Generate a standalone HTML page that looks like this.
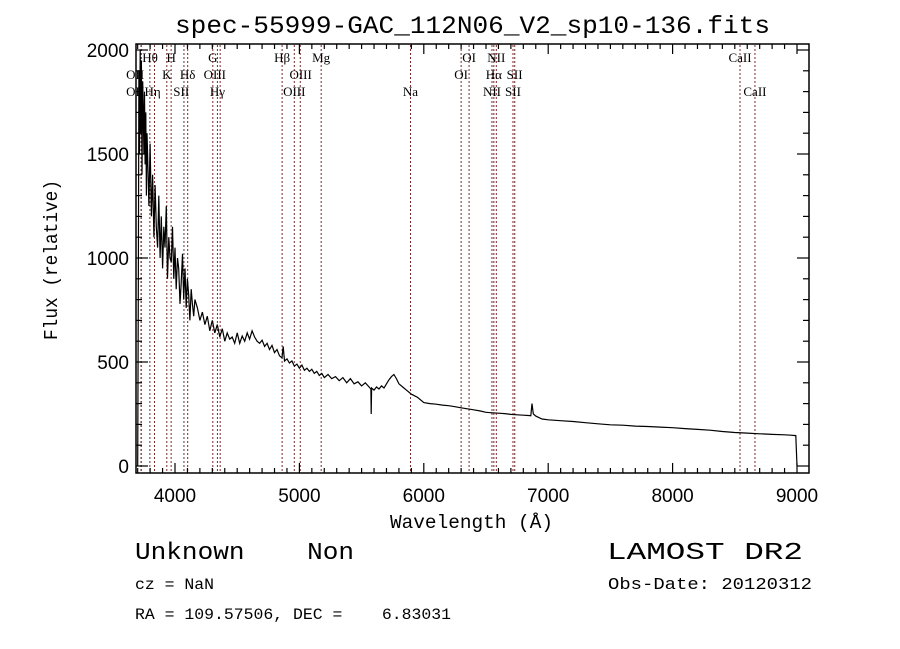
<!DOCTYPE html>
<html><head><meta charset="utf-8"><style>
html,body{margin:0;padding:0;background:#fff;}
svg{display:block;}
text{font-family:"Liberation Sans",sans-serif;}
.mono{font-family:"Liberation Mono",monospace;}
.ser{font-family:"Liberation Serif",serif;font-size:13px;}
</style></head><body>
<svg id="chart" width="900" height="649" viewBox="0 0 900 649">
<rect x="0" y="0" width="900" height="649" fill="#fff"/>
<text class="mono" x="175" y="33" font-size="25" textLength="595" lengthAdjust="spacingAndGlyphs">spec-55999-GAC_112N06_V2_sp10-136.fits</text>
<g id="lines"></g>
<g id="labels"></g>
<g id="ticks"></g>
<polyline id="spec" fill="none" stroke="#000" stroke-width="1.2"/>
<rect x="136" y="44" width="673" height="429" fill="none" stroke="#000" stroke-width="1.5"/>
<text x="390" y="528" font-size="19" textLength="163" lengthAdjust="spacingAndGlyphs" class="mono">Wavelength (Å)</text>
<text transform="translate(57,340) rotate(-90)" font-size="19" textLength="160" lengthAdjust="spacingAndGlyphs" class="mono">Flux (relative)</text>
<text class="mono" x="135" y="559" font-size="24" xml:space="preserve" textLength="219" lengthAdjust="spacingAndGlyphs">Unknown    Non</text>
<text class="mono" x="607" y="559" font-size="24" textLength="196" lengthAdjust="spacingAndGlyphs">LAMOST DR2</text>
<text class="mono" x="135" y="589" font-size="16" textLength="79" lengthAdjust="spacingAndGlyphs">cz = NaN</text>
<text class="mono" x="608" y="589" font-size="17" textLength="204" lengthAdjust="spacingAndGlyphs">Obs-Date: 20120312</text>
<text class="mono" x="135" y="619" font-size="16" xml:space="preserve" textLength="316" lengthAdjust="spacingAndGlyphs">RA = 109.57506, DEC =    6.83031</text>
</svg>
<script>
const wavelengths=[
3700,3705,3710,3715,3720,3725,3730,3735,3740,3745,
3750,3755,3760,3765,3770,3775,3780,3790,3800,3810,
3820,3830,3840,3850,3860,3870,3880,3890,3900,3910,
3920,3930,3940,3950,3960,3970,3980,3990,4000,4010,
4020,4030,4040,4050,4060,4070,4080,4090,4100,4110,
4120,4130,4140,4150,4160,4180,4200,4220,4240,4260,
4280,4300,4320,4340,4360,4380,4400,4420,4440,4460,
4480,4500,4520,4540,4560,4580,4600,4620,4640,4660,
4680,4700,4720,4740,4760,4780,4800,4820,4840,4860,
4870,4880,4900,4920,4940,4960,4980,5000,5020,5040,
5060,5080,5100,5120,5140,5160,5180,5200,5230,5260,
5290,5320,5350,5380,5410,5440,5470,5500,5530,5560,
5575,5577,5580,5600,5620,5640,5660,5680,5700,5720,
5740,5760,5780,5800,5830,5860,5900,5950,6000,6050,
6100,6150,6200,6250,6300,6350,6400,6450,6500,6550,
6600,6650,6700,6750,6800,6840,6860,6870,6880,6900,
6950,7000,7100,7200,7300,7400,7500,7600,7700,7800,
7900,8000,8100,8200,8300,8400,8500,8600,8700,8800,
8900,8950,8990,9000];
const flux=[
0,820,1900,1500,2000,1600,1950,1400,1850,1700,
1500,1800,1450,1700,1300,1600,1500,1250,1550,1200,
1400,1100,1350,1150,1050,1300,1000,1200,950,1150,
1050,1250,900,1100,1000,980,1150,900,1050,850,
1000,950,780,880,1020,800,950,760,900,820,
700,850,780,720,800,760,700,740,680,720,
650,700,640,680,620,660,600,640,610,620,
590,640,590,625,600,640,610,650,620,600,
590,605,575,590,560,580,545,560,530,520,
575,505,515,495,505,480,490,470,485,460,
470,455,465,445,455,435,445,425,440,420,
430,410,425,400,420,395,405,385,400,380,
370,250,375,365,380,370,385,375,395,415,
430,440,420,395,380,365,345,330,305,300,
297,293,290,285,280,275,270,265,258,256,
254,252,248,246,244,243,242,300,250,240,
226,222,218,214,208,203,198,196,192,190,
187,184,180,176,172,166,161,158,155,152,
150,148,146,0];
const lineWl=[3727,3729,3798,3835,3934,3969,4072,4102,4304,4341,4363,4861,4959,5007,5175,5893,6300,6364,6548,6563,6583,6717,6731,8542,8662];
const labelText=["Hθ","H","G","Hβ","Mg","OI","NII","CaII","OII","K","Hδ","OIII","OIII","OI","Hα","SII","OII","Hη","SII","Hγ","OIII","Na","NII","SII","CaII"];
const labelWl=[3800,3969,4304,4861,5175,6364,6583,8542,3680,3934,4102,4320,5010,6300,6563,6730,3680,3820,4050,4341,4959,5893,6548,6717,8662];
const labelRow=[0,0,0,0,0,0,0,0,1,1,1,1,1,1,1,1,2,2,2,2,2,2,2,2,2];
const xTicks=[4000,5000,6000,7000,8000,9000];
const yTicks=[0,500,1000,1500,2000];
const NS='http://www.w3.org/2000/svg';
const X=w=>175+(w-4000)*0.1244;
const Y=f=>466-f*0.208;
const clampY=v=>Math.max(44,Math.min(473,v));
document.getElementById('spec').setAttribute('points',wavelengths.map((w,i)=>X(w).toFixed(1)+','+clampY(Y(flux[i])).toFixed(1)).join(' '));
const lg=document.getElementById('lines');
lineWl.forEach(w=>{const l=document.createElementNS(NS,'line');
l.setAttribute('x1',X(w));l.setAttribute('x2',X(w));l.setAttribute('y1',45);l.setAttribute('y2',472);
l.setAttribute('stroke','#7a2a2a');l.setAttribute('stroke-width','1');l.setAttribute('stroke-dasharray','2,2');


lg.appendChild(l);});
const lb=document.getElementById('labels');
labelText.forEach((t,i)=>{const e=document.createElementNS(NS,'text');
e.setAttribute('x',X(labelWl[i]));e.setAttribute('y',62+labelRow[i]*17);e.setAttribute('text-anchor','middle');e.setAttribute('class','ser');e.textContent=t;


lb.appendChild(e);});
const tg=document.getElementById('ticks');
function ln(x1,y1,x2,y2){const l=document.createElementNS(NS,'line');l.setAttribute('x1',x1);l.setAttribute('y1',y1);l.setAttribute('x2',x2);l.setAttribute('y2',y2);l.setAttribute('stroke','#000');l.setAttribute('stroke-width','1.2');


tg.appendChild(l);}
for(let w=3700;w<=9100;w+=100){const x=X(w);if(x<136||x>809)continue;const L=(w%1000===0)?10:5;ln(x,473,x,473-L);ln(x,44,x,44+L);}
for(let f=0;f<=2000;f+=100){const y=Y(f);const L=(f%500===0)?12:6;ln(136,y,136+L,y);ln(809,y,809-L,y);}
xTicks.forEach(v=>{const e=document.createElementNS(NS,'text');e.setAttribute('x',X(v));e.setAttribute('y',502);e.setAttribute('text-anchor','middle');e.setAttribute('font-size','19');e.textContent=v;


tg.appendChild(e);});
yTicks.forEach(v=>{const e=document.createElementNS(NS,'text');e.setAttribute('x',129);e.setAttribute('y',Y(v)+7);e.setAttribute('text-anchor','end');e.setAttribute('font-size','19');e.textContent=v;


tg.appendChild(e);});
</script>
</body></html>
